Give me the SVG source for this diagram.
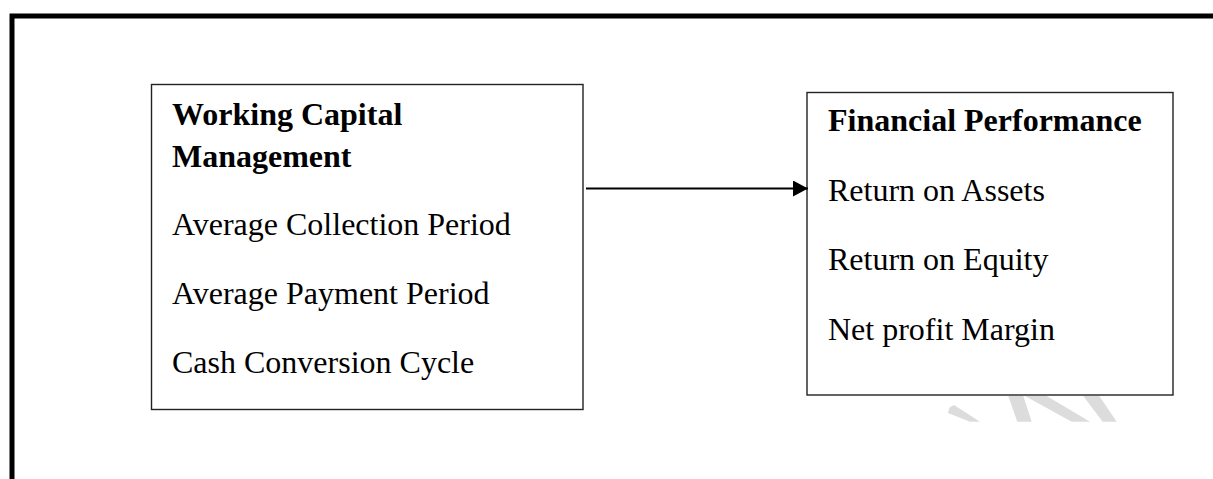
<svg xmlns="http://www.w3.org/2000/svg" width="1213" height="479" viewBox="0 0 1213 479">
  <defs>
    <style>
      .box { fill: #ffffff; stroke: #222222; stroke-width: 1.4; }
      .t { font-family: "Liberation Serif", "Times New Roman", serif; font-size: 32px; fill: #000000; }
      .b { font-weight: bold; }
      .frame { stroke: #000000; stroke-width: 5; fill: none; }
      .wm { fill: #dcdcdc; }
      .conn { stroke: #000000; stroke-width: 2.2; fill: none; }
    </style>
    <marker id="arrow" markerWidth="15" markerHeight="16" refX="15" refY="8" orient="auto" markerUnits="userSpaceOnUse">
      <polygon points="0,0 15,8 0,16" fill="#000000"/>
    </marker>
  </defs>
  <rect width="1213" height="479" fill="#ffffff"/>
  <path class="frame" d="M12,485 L12,16 L1220,16"/>
  <g id="watermark">
    <polygon class="wm" points="948,413 949.5,407.5 954,405 980,421.7 970,421.7"/>
    <polygon class="wm" points="1008.3,396 1023.3,396 1031.7,421.7 1017.3,421.7"/>
    <polygon class="wm" points="1025,396 1046.7,396 1090,421.7 1071.7,421.7"/>
    <polygon class="wm" points="1083.3,396 1099.3,396 1116.7,421.7 1102.7,421.7"/>
  </g>
  <g id="node-wcm">
    <rect class="box" x="151.5" y="84.5" width="431.5" height="325"/>
    <text class="t b" x="172" y="125">Working Capital</text>
    <text class="t b" x="172" y="166.5">Management</text>
    <text class="t" x="172" y="234.5">Average Collection Period</text>
    <text class="t" x="172" y="304">Average Payment Period</text>
    <text class="t" x="172" y="373.3">Cash Conversion Cycle</text>
  </g>
  <g id="node-fp">
    <rect class="box" x="807" y="92.5" width="366" height="302.5"/>
    <text class="t b" x="828" y="131">Financial Performance</text>
    <text class="t" x="828" y="201">Return on Assets</text>
    <text class="t" x="828" y="269.5">Return on Equity</text>
    <text class="t" x="828" y="340">Net profit Margin</text>
  </g>
  <g id="connectors">
    <line class="conn" x1="586" y1="188.5" x2="808" y2="188.5" marker-end="url(#arrow)"/>
  </g>
</svg>
